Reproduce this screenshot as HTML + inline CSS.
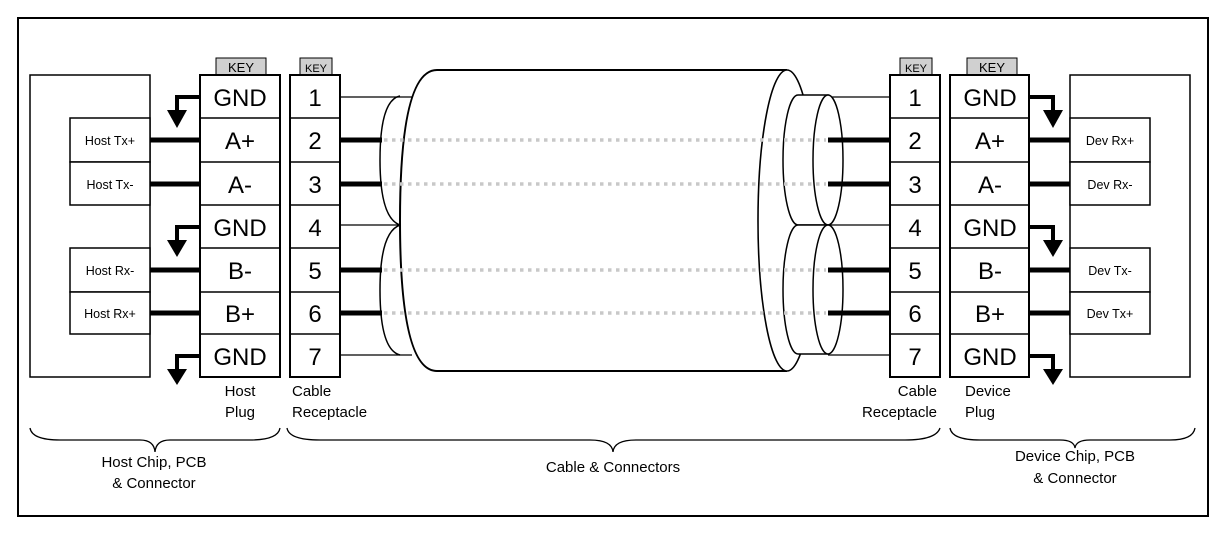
<!DOCTYPE html>
<html><head><meta charset="utf-8"><style>
html,body{margin:0;padding:0;background:#fff;}
svg{display:block;font-family:"Liberation Sans",Arial,sans-serif;}
</style></head><body>
<svg width="1232" height="537" viewBox="0 0 1232 537" xmlns="http://www.w3.org/2000/svg">
<rect x="18" y="18" width="1190" height="498" fill="#fff" stroke="#000" stroke-width="2"/>

<rect x="30" y="75" width="120" height="302" fill="#fff" stroke="#000" stroke-width="1.5"/>
<g fill="#fff" stroke="#000" stroke-width="1.5">
<rect x="70" y="118" width="80" height="44"/><rect x="70" y="162" width="80" height="43"/>
<rect x="70" y="248" width="80" height="44"/><rect x="70" y="292" width="80" height="42"/>
</g>
<g font-size="12.5" text-anchor="middle">
<text x="110" y="145">Host Tx+</text><text x="110" y="189">Host Tx-</text>
<text x="110" y="275">Host Rx-</text><text x="110" y="318">Host Rx+</text>
</g>

<rect x="1070" y="75" width="120" height="302" fill="#fff" stroke="#000" stroke-width="1.5"/>
<g fill="#fff" stroke="#000" stroke-width="1.5">
<rect x="1070" y="118" width="80" height="44"/><rect x="1070" y="162" width="80" height="43"/>
<rect x="1070" y="248" width="80" height="44"/><rect x="1070" y="292" width="80" height="42"/>
</g>
<g font-size="12.5" text-anchor="middle">
<text x="1110" y="145">Dev Rx+</text><text x="1110" y="189">Dev Rx-</text>
<text x="1110" y="275">Dev Tx-</text><text x="1110" y="318">Dev Tx+</text>
</g>

<g stroke="#000" stroke-width="5">
<line x1="150" y1="140" x2="200" y2="140"/><line x1="150" y1="184" x2="200" y2="184"/>
<line x1="150" y1="270" x2="200" y2="270"/><line x1="150" y1="313" x2="200" y2="313"/>
<line x1="1029" y1="140" x2="1070" y2="140"/><line x1="1029" y1="184" x2="1070" y2="184"/>
<line x1="1029" y1="270" x2="1070" y2="270"/><line x1="1029" y1="313" x2="1070" y2="313"/>
</g>

<g stroke="#000" stroke-width="4" fill="none">
<polyline points="200,97 177,97 177,112"/><polyline points="200,227 177,227 177,242"/><polyline points="200,356 177,356 177,371"/>
<polyline points="1029,97 1053,97 1053,112"/><polyline points="1029,227 1053,227 1053,242"/><polyline points="1029,356 1053,356 1053,371"/>
</g>
<g fill="#000">
<polygon points="167,110 187,110 177,128"/><polygon points="167,240 187,240 177,257"/><polygon points="167,369 187,369 177,385"/>
<polygon points="1043,110 1063,110 1053,128"/><polygon points="1043,240 1063,240 1053,257"/><polygon points="1043,369 1063,369 1053,385"/>
</g>

<g fill="#d0d0d0" stroke="#000" stroke-width="1">
<rect x="216" y="58" width="50" height="17"/><rect x="300" y="58" width="32" height="17"/>
<rect x="900" y="58" width="32" height="17"/><rect x="967" y="58" width="50" height="17"/>
</g>
<g font-size="13" text-anchor="middle">
<text x="241" y="72">KEY</text><text x="992" y="72">KEY</text>
</g>
<g font-size="11" text-anchor="middle"><text x="316" y="72">KEY</text><text x="916" y="72">KEY</text></g>

<g fill="#fff" stroke="#000" stroke-width="2">
<rect x="200" y="75" width="80" height="302"/><rect x="290" y="75" width="50" height="302"/>
<rect x="890" y="75" width="50" height="302"/><rect x="950" y="75" width="79" height="302"/>
</g>
<g stroke="#000" stroke-width="1.5">
<path d="M200 118H280M200 162H280M200 205H280M200 248H280M200 292H280M200 334H280"/>
<path d="M290 118H340M290 162H340M290 205H340M290 248H340M290 292H340M290 334H340"/>
<path d="M890 118H940M890 162H940M890 205H940M890 248H940M890 292H940M890 334H940"/>
<path d="M950 118H1029M950 162H1029M950 205H1029M950 248H1029M950 292H1029M950 334H1029"/>
</g>
<g font-size="24" text-anchor="middle">
<text x="240" y="106">GND</text><text x="240" y="149">A+</text><text x="240" y="193">A-</text><text x="240" y="236">GND</text><text x="240" y="279">B-</text><text x="240" y="322">B+</text><text x="240" y="365">GND</text>
<text x="990" y="106">GND</text><text x="990" y="149">A+</text><text x="990" y="193">A-</text><text x="990" y="236">GND</text><text x="990" y="279">B-</text><text x="990" y="322">B+</text><text x="990" y="365">GND</text>
<text x="315" y="106">1</text><text x="315" y="149">2</text><text x="315" y="193">3</text><text x="315" y="236">4</text><text x="315" y="279">5</text><text x="315" y="322">6</text><text x="315" y="365">7</text>
<text x="915" y="106">1</text><text x="915" y="149">2</text><text x="915" y="193">3</text><text x="915" y="236">4</text><text x="915" y="279">5</text><text x="915" y="322">6</text><text x="915" y="365">7</text>
</g>

<!-- thin wires -->
<g stroke="#000" stroke-width="1.2">
<line x1="340" y1="97" x2="412" y2="97"/><line x1="340" y1="225" x2="400" y2="225"/><line x1="340" y1="355" x2="412" y2="355"/>
<line x1="828" y1="97" x2="890" y2="97"/><line x1="828" y1="225" x2="890" y2="225"/><line x1="828" y1="355" x2="890" y2="355"/>
</g>
<!-- left inner arcs -->
<path d="M400 96 Q380 100 380 160 Q380 218 400 225 Q380 232 380 290 Q380 350 400 355" fill="none" stroke="#000" stroke-width="1.5"/>
<!-- outer cylinder -->
<path d="M437 70 H787 V371 H437 Q400 371 400 220.5 Q400 70 437 70 Z" fill="#fff" stroke="none"/>
<path d="M787 70 H437 Q400 70 400 220.5 Q400 371 437 371 H787" fill="none" stroke="#000" stroke-width="2"/>
<ellipse cx="787" cy="220.5" rx="29" ry="150.5" fill="#fff" stroke="#000" stroke-width="1.6"/>
<!-- right inner cylinders -->
<g fill="#fff" stroke="#000" stroke-width="1.5">
<path d="M798 95 H828 V225 H798 A15 65 0 0 1 798 95 Z"/>
<ellipse cx="828" cy="160" rx="15" ry="65"/>
<path d="M798 225 H828 V354 H798 A15 64.5 0 0 1 798 225 Z"/>
<ellipse cx="828" cy="289.5" rx="15" ry="64.5"/>
</g>
<!-- dotted -->
<g stroke="#c8c8c8" stroke-width="3.5" stroke-dasharray="3.5 4.5">
<line x1="384" y1="140" x2="826" y2="140"/><line x1="384" y1="184" x2="826" y2="184"/>
<line x1="384" y1="270" x2="826" y2="270"/><line x1="384" y1="313" x2="826" y2="313"/>
</g>
<g stroke="#000" stroke-width="5">
<line x1="340" y1="140" x2="382" y2="140"/><line x1="340" y1="184" x2="382" y2="184"/>
<line x1="340" y1="270" x2="382" y2="270"/><line x1="340" y1="313" x2="382" y2="313"/>
<line x1="828" y1="140" x2="890" y2="140"/><line x1="828" y1="184" x2="890" y2="184"/>
<line x1="828" y1="270" x2="890" y2="270"/><line x1="828" y1="313" x2="890" y2="313"/>
</g>

<g font-size="15">
<text x="240" y="396" text-anchor="middle">Host</text><text x="240" y="417" text-anchor="middle">Plug</text>
<text x="292" y="396">Cable</text><text x="292" y="417">Receptacle</text>
<text x="937" y="396" text-anchor="end">Cable</text><text x="937" y="417" text-anchor="end">Receptacle</text>
<text x="965" y="396">Device</text><text x="965" y="417">Plug</text>
<text x="154" y="467" text-anchor="middle">Host Chip, PCB</text><text x="154" y="488" text-anchor="middle">&amp; Connector</text>
<text x="613" y="472" text-anchor="middle">Cable &amp; Connectors</text>
<text x="1075" y="461" text-anchor="middle">Device Chip, PCB</text><text x="1075" y="483" text-anchor="middle">&amp; Connector</text>
</g>
<g fill="none" stroke="#000" stroke-width="1.3">
<path d="M30 428 Q32 440 60 440 H140 Q154 440 155 452 Q156 440 170 440 H250 Q278 440 280 428"/>
<path d="M287 428 Q289 440 320 440 H590 Q612 440 613 452 Q614 440 636 440 H905 Q936 440 940 428"/>
<path d="M950 428 Q952 440 980 440 H1060 Q1074 440 1075 448 Q1076 440 1090 440 H1170 Q1193 440 1195 428"/>
</g>
</svg>
</body></html>
